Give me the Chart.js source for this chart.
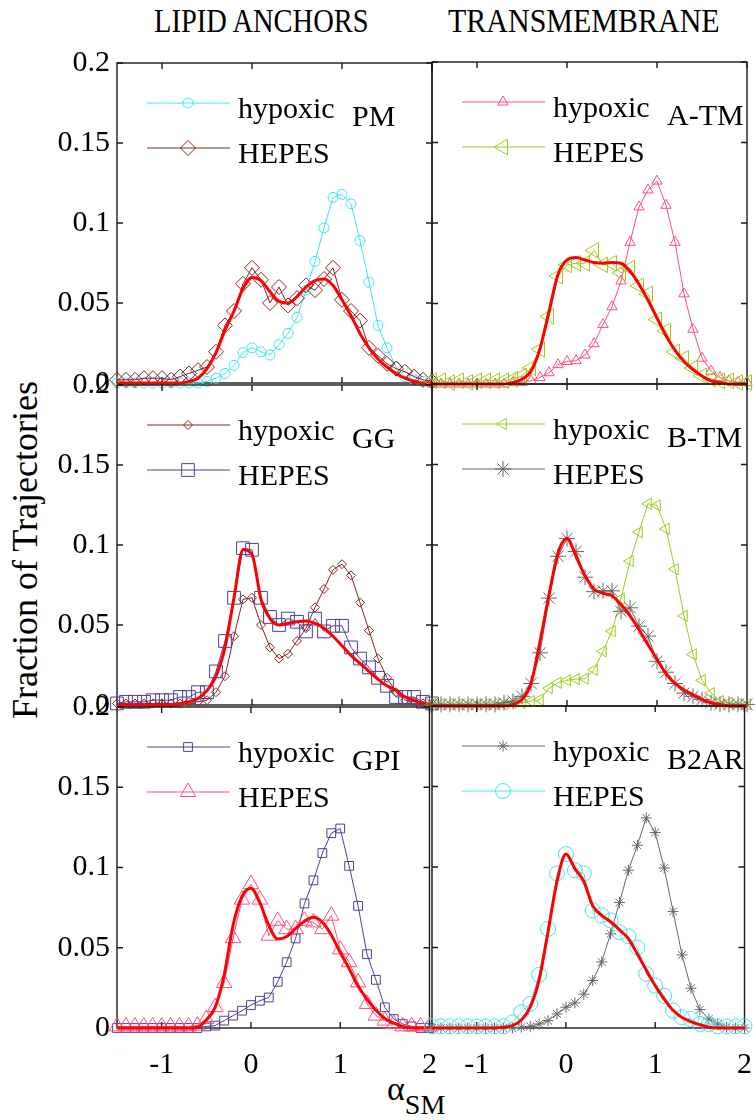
<!DOCTYPE html>
<html lang="en">
<head>
  <meta charset="UTF-8">
  <title>Fraction of Trajectories vs alpha SM</title>
  <script src="https://cdn.jsdelivr.net/npm/chart.js"></script>
  <style>
    body { margin: 0; background: #fff; }
    #page { position: relative; width: 756px; height: 1120px; overflow: hidden; background: #fff;
            font-family: "Liberation Serif", "Times New Roman", serif; color: #000; }
    canvas { position: absolute; }
    .lbl { position: absolute; white-space: nowrap; line-height: 1; }
  </style>
</head>
<body>
<div id="page">
  <div class="lbl" style="left:154px; top:4px; font-size:30px; transform-origin:left top; transform:scale(0.95,1.12);">LIPID ANCHORS</div>
  <div class="lbl" style="left:448px; top:4px; font-size:30px; transform-origin:left top; transform:scale(1.0,1.12);">TRANSMEMBRANE</div>
  <div class="lbl" style="left:25px; top:550px; font-size:36px; transform: translate(-50%,-50%) rotate(-90deg);">Fraction of Trajectories</div>
  <div class="lbl" style="left:387px; top:1072px; font-size:34px;">α<span style="font-size:28px; position:relative; top:14px;">SM</span></div>
</div>

<script>
  // x positions of the histogram bins
  const xVals = [-1.5,-1.4,-1.3,-1.2,-1.1,-1.0,-0.9,-0.8,-0.7,-0.6,-0.5,-0.4,-0.3,-0.2,-0.1,0,0.1,0.2,0.3,0.4,0.5,0.6,0.7,0.8,0.9,1.0,1.1,1.2,1.3,1.4,1.5,1.6,1.7,1.8,1.9,2.0];
  const xTicks = [-1, 0, 1, 2];
  const yTicks = [0, 0.05, 0.1, 0.15, 0.2];

  // PM
  const pmHypoxic = [0,0,0,0,0,0,0,0,0,0,0.001, 0.003,0.006,0.011,0.019,0.022,0.0195,0.0175,0.024,0.031,0.041,0.058,0.076,0.097,0.116,0.118,0.112,0.089,0.063,0.036,0.022,0.010,0.004,0.002,0.001,0];
  const pmHepes   = [0.002,0.002,0.002,0.003,0.003,0.003,0.002,0.004,0.006,0.008,0.010, 0.0195,0.036,0.045,0.062,0.072,0.0645,0.050,0.060,0.0485,0.053,0.061,0.058,0.065,0.072,0.052,0.045,0.039,0.022,0.017,0.012,0.009,0.007,0.004,0.002,0.001];
  const pmFit     = [0,0,0,0,0,0,0,0,0.001,0.003,0.009, 0.019,0.033,0.045,0.059,0.066,0.064,0.057,0.051,0.050,0.054,0.060,0.064,0.065,0.061,0.052,0.042,0.031,0.022,0.015,0.010,0.006,0.003,0.001,0,0];

  // A-TM
  const atmHypoxic = [0,0,0,0,0,0,0,0,0,0.001,0.001, 0.002,0.004,0.007,0.012,0.014,0.0145,0.018,0.025,0.037,0.048,0.064,0.088,0.110,0.1205,0.126,0.111,0.088,0.056,0.034,0.016,0.008,0.004,0.002,0.001,0.001];
  const atmHepes   = [0.002,0.002,0.001,0.002,0.001,0.002,0.002,0.002,0.002,0.003,0.005, 0.010,0.0215,0.042,0.067,0.074,0.075,0.075,0.083,0.074,0.075,0.069,0.072,0.061,0.056,0.040,0.033,0.020,0.016,0.010,0.005,0.003,0.002,0.002,0.001,0.001];
  const atmFit     = [0,0,0,0,0,0,0,0,0,0.001,0.003, 0.008,0.022,0.045,0.068,0.077,0.0785,0.077,0.0755,0.075,0.0755,0.075,0.070,0.062,0.052,0.041,0.030,0.021,0.014,0.009,0.005,0.002,0.001,0,0,0];

  // GG
  const ggHypoxic = [0.001,0.001,0.001,0.001,0.001,0.001,0.001,0.001,0.002,0.002,0.003, 0.008,0.018,0.043,0.066,0.067,0.050,0.036,0.029,0.032,0.040,0.048,0.061,0.0725,0.0845,0.088,0.081,0.064,0.0465,0.029,0.017,0.008,0.003,0.002,0.001,0.001];
  const ggHepes   = [0.001,0.002,0.002,0.002,0.003,0.003,0.003,0.005,0.005,0.008,0.008, 0.021,0.040,0.067,0.098,0.097,0.067,0.055,0.050,0.054,0.052,0.046,0.054,0.046,0.0495,0.0495,0.036,0.029,0.0235,0.017,0.012,0.005,0.005,0.005,0.002,0.001];
  const ggFit     = [0,0,0,0,0,0,0,0.001,0.002,0.004,0.009, 0.018,0.036,0.067,0.097,0.094,0.066,0.054,0.050,0.051,0.052,0.0525,0.051,0.048,0.043,0.037,0.031,0.026,0.021,0.016,0.012,0.009,0.005,0.003,0.001,0];

  // B-TM
  const btmHypoxic = [0.001,0.001,0.001,0.001,0.001,0.001,0.001,0.001,0.001,0.002,0.002, 0.003,0.004,0.011,0.0145,0.016,0.0167,0.017,0.0225,0.034,0.0465,0.0667,0.090,0.108,0.1256,0.1246,0.110,0.085,0.056,0.032,0.016,0.008,0.003,0.002,0.001,0.001];
  const btmHepes   = [0.001,0.001,0.001,0.001,0.001,0.001,0.001,0.001,0.002,0.003,0.006, 0.014,0.033,0.067,0.093,0.104,0.096,0.080,0.071,0.0715,0.0715,0.0588,0.061,0.0496,0.0434,0.0277,0.021,0.014,0.008,0.006,0.004,0.002,0.001,0.001,0.001,0.001];
  const btmFit     = [0,0,0,0,0,0,0,0,0,0.001,0.004, 0.014,0.040,0.069,0.095,0.104,0.093,0.081,0.0725,0.070,0.0685,0.063,0.056,0.0475,0.038,0.029,0.020,0.014,0.010,0.007,0.004,0.002,0.001,0,0,0];

  // GPI
  const gpiHypoxic = [0,0,0,0,0,0,0,0,0,0,0.001, 0.0015,0.0046,0.0077,0.0108,0.0143,0.017,0.019,0.0288,0.041,0.0558,0.0776,0.092,0.109,0.1214,0.1243,0.101,0.0761,0.046,0.030,0.0129,0.0056,0.0025,0.001,0,0];
  const gpiHepes   = [0.001,0.001,0.001,0.001,0.001,0.001,0.001,0.001,0.001,0.0015,0.0056, 0.013,0.028,0.056,0.080,0.0896,0.080,0.0575,0.0668,0.0616,0.0616,0.0668,0.0658,0.0616,0.070,0.049,0.041,0.0284,0.015,0.0077,0.0046,0.0025,0.001,0.001,0.001,0.001];
  const gpiFit     = [0,0,0,0,0,0,0,0,0,0.0005,0.005, 0.013,0.033,0.064,0.082,0.087,0.078,0.064,0.0555,0.057,0.062,0.0665,0.069,0.066,0.058,0.047,0.037,0.026,0.018,0.011,0.006,0.003,0.001,0,0,0];

  // B2AR
  const b2arHypoxic = [0,0,0,0,0,0,0,0,0,0,0.0005, 0.001,0.0025,0.0046,0.0087,0.0129,0.0156,0.021,0.0295,0.041,0.0585,0.078,0.098,0.1135,0.1305,0.1214,0.0994,0.0724,0.0454,0.0247,0.0114,0.0056,0.0025,0.0004,0,0];
  const b2arHepes   = [0.001,0.001,0.001,0.001,0.001,0.001,0.001,0.001,0.001,0.0035,0.0098, 0.015,0.033,0.0616,0.096,0.108,0.098,0.096,0.073,0.070,0.0668,0.0595,0.057,0.050,0.0336,0.0263,0.020,0.0108,0.0066,0.0056,0.0025,0.0025,0.001,0.001,0.001,0.001];
  const b2arFit     = [0,0,0,0,0,0,0,0,0.0005,0.0015,0.005, 0.013,0.030,0.060,0.091,0.108,0.099,0.091,0.076,0.070,0.066,0.061,0.0554,0.046,0.036,0.0263,0.018,0.011,0.0065,0.004,0.002,0.0005,0,0,0,0];

  const CYAN = '#3ee4ee', MAROON = '#8b2222', PINK = '#ff4d7d', LIME = '#9acd1a',
        PURPLE = '#4e4194', GRAY = '#666666', RED = '#ff0000';

  const panels = [
    { name: 'PM',   row: 0, col: 0, hyp: pmHypoxic,   hep: pmHepes,   fit: pmFit,
      hypSt: { color: CYAN, point: 'circle', r: 5 },            hepSt: { color: MAROON, point: 'rectRot', r: 7.5 } },
    { name: 'A-TM', row: 0, col: 1, hyp: atmHypoxic,  hep: atmHepes,  fit: atmFit,
      hypSt: { color: PINK, point: 'triangle', r: 6 },          hepSt: { color: LIME, point: 'triangle', r: 9, rot: -90 } },
    { name: 'GG',   row: 1, col: 0, hyp: ggHypoxic,   hep: ggHepes,   fit: ggFit,
      hypSt: { color: MAROON, point: 'rectRot', r: 4.5 },       hepSt: { color: PURPLE, point: 'rect', r: 9 } },
    { name: 'B-TM', row: 1, col: 1, hyp: btmHypoxic,  hep: btmHepes,  fit: btmFit,
      hypSt: { color: LIME, point: 'triangle', r: 6.5, rot: -90 }, hepSt: { color: GRAY, point: 'star', r: 8 } },
    { name: 'GPI',  row: 2, col: 0, hyp: gpiHypoxic,  hep: gpiHepes,  fit: gpiFit,
      hypSt: { color: PURPLE, point: 'rect', r: 6.2 },          hepSt: { color: PINK, point: 'triangle', r: 9 } },
    { name: 'B2AR', row: 2, col: 1, hyp: b2arHypoxic, hep: b2arHepes, fit: b2arFit,
      hypSt: { color: GRAY, point: 'star', r: 5.5 },            hepSt: { color: CYAN, point: 'circle', r: 7.5 } }
  ];

  const PAD = 24;
  const colLeft = [117, 432], colRight = [432, 747];
  const rowTop = [62, 384, 706], plotH = 322;
  const FONT = '"Liberation Serif", "Times New Roman", serif';

  const toXY = arr => xVals.map((x, i) => ({ x: x, y: arr[i] }));

  // box with inward tick marks on all four sides
  const framePlugin = {
    id: 'frame',
    beforeDatasetsDraw(chart) {
      const { ctx, chartArea: a, scales: { x, y } } = chart;
      ctx.save();
      ctx.strokeStyle = '#1a1a1a';
      ctx.lineWidth = 1.4;
      ctx.strokeRect(a.left, a.top, a.right - a.left, a.bottom - a.top);
      ctx.beginPath();
      xTicks.forEach(v => {
        const px = x.getPixelForValue(v);
        ctx.moveTo(px, a.bottom); ctx.lineTo(px, a.bottom - 6);
        ctx.moveTo(px, a.top); ctx.lineTo(px, a.top + 6);
      });
      yTicks.forEach(v => {
        const py = y.getPixelForValue(v);
        ctx.moveTo(a.left, py); ctx.lineTo(a.left + 6, py);
        ctx.moveTo(a.right, py); ctx.lineTo(a.right - 6, py);
      });
      ctx.stroke();
      ctx.restore();
    }
  };

  const makeLegend = p => ({
    id: 'legendBox',
    afterDraw(chart) {
      const { ctx, chartArea: a } = chart;
      ctx.save();
      [[p.hypSt, 'hypoxic', 40], [p.hepSt, 'HEPES', 85]].forEach(([s, label, dy]) => {
        const y0 = a.top + dy, x0 = a.left + 30;
        ctx.strokeStyle = s.color;
        ctx.lineWidth = 1;
        ctx.beginPath(); ctx.moveTo(x0, y0); ctx.lineTo(x0 + 83, y0); ctx.stroke();
        ctx.fillStyle = 'rgba(0,0,0,0)';
        Chart.helpers.drawPoint(ctx, { pointStyle: s.point, radius: s.r, rotation: s.rot || 0, borderWidth: 1 }, x0 + 41, y0);
        ctx.fillStyle = '#000';
        ctx.font = '30px ' + FONT;
        ctx.textBaseline = 'alphabetic';
        ctx.fillText(label, a.left + 121, y0 + 15);
      });
      ctx.fillText(p.name, a.left + 235, a.top + 63);
      ctx.restore();
    }
  });

  const seriesSet = (data, s) => ({
    data: toXY(data), borderColor: s.color, borderWidth: 1, backgroundColor: 'rgba(0,0,0,0)',
    pointStyle: s.point, pointRadius: s.r, pointRotation: s.rot || 0, pointBorderWidth: 1,
    pointBorderColor: s.color, pointBackgroundColor: 'rgba(0,0,0,0)', tension: 0, clip: false
  });

  panels.forEach(p => {
    const cv = document.createElement('canvas');
    const left = p.col === 0 ? 0 : colLeft[1] - PAD;
    const width = p.col === 0 ? colRight[0] + PAD : (colRight[1] - colLeft[1]) + 2 * PAD;
    const bottomExtra = p.row === 2 ? 62 : PAD;
    const top = rowTop[p.row] - PAD;
    const height = PAD + plotH + bottomExtra;
    cv.width = width; cv.height = height;
    cv.style.left = left + 'px'; cv.style.top = top + 'px';
    cv.style.width = width + 'px'; cv.style.height = height + 'px';
    document.getElementById('page').appendChild(cv);

    new Chart(cv.getContext('2d'), {
      type: 'line',
      data: {
        datasets: [
          { data: toXY(p.fit), borderColor: RED, borderWidth: 3, pointRadius: 0,
            cubicInterpolationMode: 'monotone', fill: false, clip: false },
          seriesSet(p.hep, p.hepSt),
          seriesSet(p.hyp, p.hypSt)
        ]
      },
      options: {
        responsive: false, devicePixelRatio: 1, animation: false, events: [],
        layout: { padding: { top: PAD, bottom: p.row === 2 ? 0 : PAD, left: p.col === 0 ? 0 : PAD, right: PAD } },
        plugins: { legend: { display: false }, tooltip: { enabled: false } },
        scales: {
          x: {
            type: 'linear', min: -1.5, max: 2,
            grid: { display: false, drawTicks: false }, border: { display: false },
            afterBuildTicks: s => { s.ticks = xTicks.map(v => ({ value: v })); },
            afterFit: s => { s.height = p.row === 2 ? 62 : 0; },
            ticks: { display: p.row === 2, autoSkip: false, maxRotation: 0, padding: 19,
                     color: '#000', font: { family: FONT, size: 30 } }
          },
          y: {
            min: 0, max: 0.2,
            grid: { display: false, drawTicks: false }, border: { display: false },
            afterBuildTicks: s => { s.ticks = yTicks.map(v => ({ value: v })); },
            afterFit: s => { s.width = p.col === 0 ? 117 : 0; },
            ticks: { display: p.col === 0, padding: 7, color: '#000', font: { family: FONT, size: 30 },
                     callback: v => String(Number(v.toFixed(2))) }
          }
        }
      },
      plugins: [framePlugin, makeLegend(p)]
    });
  });
</script>
</body>
</html>
